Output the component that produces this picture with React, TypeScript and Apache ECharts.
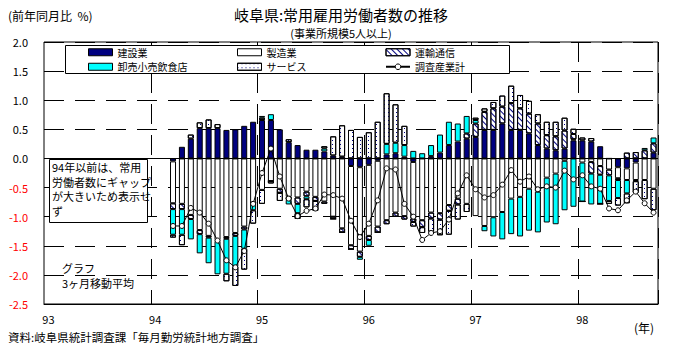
import React, { useEffect, useRef } from 'react';
import * as echarts from 'echarts';

// ---- data -------------------------------------------------------------
const yearLabels = ['93', '94', '95', '96', '97', '98'];
const categoryCount = 69; // Jan 93 .. Sep 98
const categories: string[] = [];
for (const y of yearLabels) {
  for (let m = 1; m <= 12; m++) {
    if (categories.length < categoryCount) categories.push(`${y}/${m}`);
  }
}
// bars start at Mar 94 (3-month moving average); earlier months not shown
const hiddenMonths = 14;

const construction = [
  -0.05, 0.2, 0.34, 0.52, 0.52, 0.52, 0.49, 0.5, 0.56, 0.63,
  0.66, 0.66, 0.5, 0.28, 0.23, 0.15, 0.15, 0.12, 0.05, 0.03,
  -0.13, -0.15, -0.11, -0.04, 0.07, 0.09, 0.03, -0.06, 0, 0.04,
  0.1, 0.23, 0.29, 0.34, 0.37, 0.49, 0.49, 0.6, 0.49, 0.49,
  0.43, 0.23, 0.17, 0.14, 0.17, 0.31, 0.31, 0.29, 0.21, 0,
  -0.15, -0.17, -0.07, 0, 0.1,
];
const manufacturing = [
  -0.72, -0.78, -0.97, -1.23, -1.33, -1.4, -1.35, -1.28, -1.17, -0.76,
  -0.54, -0.39, -0.52, -0.66, -0.67, -0.57, -0.66, -0.74, -1.0, -1.2,
  -1.36, -1.45, -1.22, -1.13, -1.06, -0.93, -0.99, -0.97, -1.06, -0.93,
  -0.94, -0.8, -0.69, -0.78, -0.99, -1.16, -1.01, -0.92, -0.69, -0.66,
  -0.52, -0.57, -0.33, -0.26, -0.04, 0.02, -0.07, -0.06, -0.13, -0.19,
  -0.19, -0.2, -0.3, -0.37, -0.52,
];
const transport = [
  -0.1, -0.09, -0.07, -0.07, -0.03, -0.02, -0.03, -0.05, -0.05, 0,
  0.04, 0, -0.07, -0.05, -0.11, -0.08, -0.07, -0.04, -0.04, -0.07,
  -0.07, -0.09, -0.07, -0.1, -0.07, -0.07, -0.06, -0.06, -0.12, -0.1,
  -0.11, -0.1, -0.1, 0.09, 0.23, 0.31, 0.37, 0.29, 0.46, 0.37,
  0.34, 0.37, 0.23, 0.24, 0.31, 0.09, 0.05, -0.2, -0.15, -0.1,
  -0.03, 0.1, 0.11, 0.14, 0.16,
];
const wholesale = [
  -0.44, -0.44, -0.35, -0.33, -0.44, -0.57, -0.6, -0.53, -0.33, -0.13,
  0.03, 0.1, 0, -0.08, -0.16, -0.05, 0, 0.05, 0, 0,
  0, -0.05, -0.1, 0, 0.18, 0.18, 0.2, 0.13, 0.09, 0.19,
  0.31, 0.4, 0.31, 0.3, 0.06, -0.09, -0.33, -0.47, -0.61, -0.68,
  -0.72, -0.7, -0.77, -0.87, -0.85, -0.83, -0.67, -0.53, -0.5, -0.44,
  -0.31, -0.23, -0.02, 0.04, 0.1,
];
const services = [
  -0.05, -0.18, 0.07, 0.1, 0.15, 0.07, -0.13, -0.33, -0.36, -0.23,
  -0.24, -0.04, -0.14, 0.05, -0.1, -0.14, -0.17, 0.04, 0.33, 0.54,
  0.49, 0.37, 0.45, 0.63, 0.87, 0.66, 0.33, -0.08, -0.1, -0.23,
  -0.27, -0.41, -0.26, -0.14, 0.04, 0.06, 0.11, 0.19, 0.3, 0.23,
  0.22, 0.16, 0.23, 0.25, 0.22, 0.09, 0, 0.06, 0, -0.05,
  -0.13, -0.17, -0.2, -0.33, -0.37,
];
const total = [
  -1.16, -1.16, -0.85, -0.93, -1.12, -1.41, -1.75, -1.87, -1.59, -0.78,
  -0.25, 0.17, -0.31, -0.69, -0.99, -0.9, -0.86, -0.62, -0.63, -0.69,
  -1.07, -1.35, -1.12, -0.72, -0.17, -0.19, -0.78, -1.0, -1.4, -1.28,
  -1.25, -1.05, -0.6, -0.29, -0.53, -0.67, -0.63, -0.45, -0.2, -0.4,
  -0.31, -0.53, -0.48, -0.5, -0.21, -0.36, -0.29, -0.48, -0.52, -0.86,
  -0.89, -0.72, -0.57, -0.77, -0.93,
];

const names = ['建設業', '製造業', '運輸通信', '卸売小売飲食店', 'サービス', '調査産業計'];

const FONT = '"Noto Sans CJK JP", "Noto Sans", sans-serif';

function pad(arr: number[]) {
  return [...new Array(hiddenMonths).fill(null), ...arr];
}

export default function App() {
  const ref = useRef<HTMLDivElement>(null);
  useEffect(() => {
    if (!ref.current) return;
    document.body.style.margin = '0';
    const chart = echarts.init(ref.current, undefined, { renderer: 'svg' });

    const hatch = {
      symbol: 'rect',
      symbolSize: 1,
      dashArrayX: [1, 0],
      dashArrayY: [1, 3],
      rotation: Math.PI / 4,
      color: '#000080',
      backgroundColor: '#ffffff',
    };
    const dots = {
      symbol: 'rect',
      symbolSize: 1,
      dashArrayX: [1, 3],
      dashArrayY: [1, 3],
      color: '#000080',
      backgroundColor: '#ffffff',
    };

    const bar = (name: string, data: number[], itemStyle: any) => ({
      name,
      type: 'bar',
      stack: 'total',
      barWidth: 6,
      data: pad(data),
      itemStyle: { borderColor: '#000', borderWidth: 1, ...itemStyle },
      emphasis: { disabled: true },
    });

    const legendCommon = {
      orient: 'vertical',
      top: 45,
      padding: 0,
      itemWidth: 24,
      itemHeight: 7,
      itemGap: 0,
      z: 5,
      textStyle: {
        fontFamily: FONT,
        fontSize: 10,
        lineHeight: 14.5,
        color: '#000',
      },
      itemStyle: { borderColor: '#000', borderWidth: 1 },
      selectedMode: false,
    };

    chart.setOption({
      animation: false,
      textStyle: { fontFamily: FONT },
      grid: {
        left: 44,
        right: 26,
        top: 42,
        bottom: 48,
        show: true,
        borderColor: '#000',
        borderWidth: 1,
        backgroundColor: 'transparent',
      },
      legend: [
        { ...legendCommon, left: 88, data: [{ name: names[0], icon: 'rect' }, { name: names[3], icon: 'rect' }] },
        { ...legendCommon, left: 237, data: [{ name: names[1], icon: 'rect' }, { name: names[4], icon: 'rect' }] },
        { ...legendCommon, left: 385, data: [{ name: names[2], icon: 'rect' }, { name: names[5] }] },
      ],
      xAxis: {
        type: 'category',
        data: categories,
        boundaryGap: true,
        axisLine: { show: true, onZero: false, lineStyle: { color: '#000' } },
        axisTick: { show: false },
        axisLabel: {
          interval: (i: number) => i % 12 === 0,
          formatter: (v: string) => v.split('/')[0],
          color: '#000',
          fontSize: 11,
          margin: 9,
          fontFamily: FONT,
        },
        splitLine: {
          show: true,
          interval: (i: number) => i % 12 === 0 && i > 0,
          lineStyle: { color: '#000', type: [20, 11], width: 1 },
        },
      },
      yAxis: {
        type: 'value',
        min: -2.5,
        max: 2.0,
        interval: 0.5,
        axisLine: { show: false },
        axisTick: { show: false },
        axisLabel: {
          formatter: (v: number) => v.toFixed(1),
          color: (v: any) => (Number(v) < 0 ? '#ff0000' : '#000'),
          fontSize: 11,
          margin: 16,
          fontFamily: FONT,
        },
        splitLine: { show: true, lineStyle: { color: '#000', type: [20, 11], width: 1 } },
      },
      series: [
        bar(names[0], construction, { color: '#000080' }),
        bar(names[1], manufacturing, { color: '#ffffff' }),
        bar(names[2], transport, { color: '#ffffff', decal: hatch }),
        bar(names[3], wholesale, { color: '#00ffff' }),
        bar(names[4], services, { color: '#ffffff', decal: dots }),
        {
          name: names[5],
          type: 'line',
          data: pad(total),
          symbol: 'circle',
          symbolSize: 5,
          z: 5,
          lineStyle: { color: '#000', width: 1 },
          itemStyle: { color: '#fff', borderColor: '#000', borderWidth: 1 },
          emphasis: { disabled: true },
          markLine: {
            silent: true,
            symbol: 'none',
            label: { show: false },
            lineStyle: { color: '#000', type: 'solid', width: 1 },
            data: [{ yAxis: 0 }],
          },
        },
      ],
      graphic: [
        {
          type: 'rect',
          z: 3,
          shape: { x: 65.5, y: 45.5, width: 444, height: 28 },
          style: { fill: '#fff', stroke: '#000', lineWidth: 1 },
        },
        {
          type: 'rect',
          z: 3,
          shape: { x: 49.5, y: 159.5, width: 98, height: 63 },
          style: { fill: '#fff', stroke: '#000', lineWidth: 1 },
        },
        {
          type: 'text',
          z: 4,
          x: 52,
          y: 160,
          style: {
            text: '94年以前は、常用\n労働者数にギャップ\nが大きいため表示せ\nず',
            font: `11px ${FONT}`,
            lineHeight: 14.5,
            fill: '#000',
          },
        },
        {
          type: 'text',
          z: 4,
          x: 62,
          y: 268,
          style: { text: 'グラフ', font: `11px ${FONT}`, fill: '#000', verticalAlign: 'middle' },
        },
        {
          type: 'text',
          z: 4,
          x: 62,
          y: 283,
          style: { text: '3ヶ月移動平均', font: `11px ${FONT}`, fill: '#000', verticalAlign: 'middle' },
        },
        {
          type: 'text',
          x: 8,
          y: 15,
          style: { text: '(前年同月比  %)', font: `12px ${FONT}`, fill: '#000', verticalAlign: 'middle' },
        },
        {
          type: 'text',
          x: 341,
          y: 14,
          style: {
            text: '岐阜県:常用雇用労働者数の推移',
            font: `15px ${FONT}`,
            fill: '#000',
            align: 'center',
            verticalAlign: 'middle',
          },
        },
        {
          type: 'text',
          x: 341,
          y: 33,
          style: {
            text: '(事業所規模5人以上)',
            font: `11px ${FONT}`,
            fill: '#000',
            align: 'center',
            verticalAlign: 'middle',
          },
        },
        {
          type: 'text',
          x: 634,
          y: 327,
          style: { text: '(年)', font: `12px ${FONT}`, fill: '#000', verticalAlign: 'middle' },
        },
        {
          type: 'text',
          x: 8,
          y: 337,
          style: {
            text: '資料:岐阜県統計調査課「毎月勤労統計地方調査」',
            font: `11.5px ${FONT}`,
            fill: '#000',
            verticalAlign: 'middle',
          },
        },
      ],
    });
    return () => chart.dispose();
  }, []);
  return <div ref={ref} style={{ width: 684, height: 352 }} />;
}
